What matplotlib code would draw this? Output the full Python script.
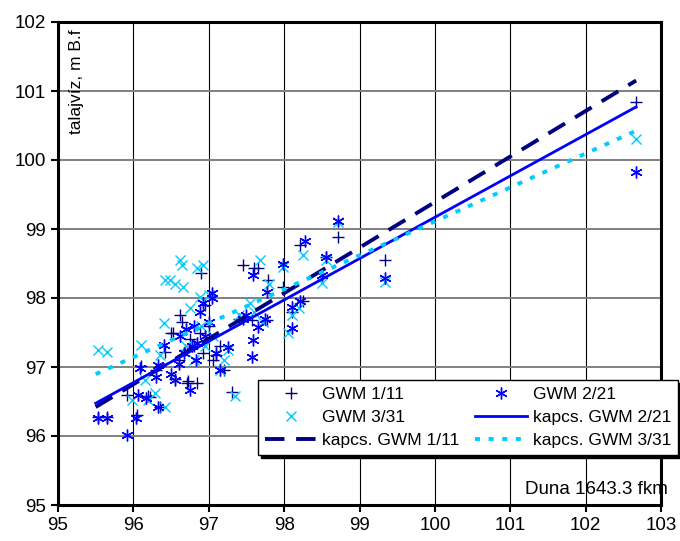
import numpy as np
import matplotlib
matplotlib.use('Agg')
import matplotlib.pyplot as plt

plt.rcParams['font.family'] = ['Liberation Sans', 'DejaVu Sans']

# GWM 1/11 (+)
x1 = [95.53, 95.65, 95.92, 96.05, 96.1, 96.2, 96.22, 96.35, 96.3, 96.42, 96.5, 96.53, 96.55, 96.62,
      96.64, 96.6, 96.68, 96.71, 96.72, 96.84, 96.75, 96.8, 96.88, 96.9, 96.92, 96.95, 97.0, 97.05,
      97.1, 97.15, 97.2, 97.31, 97.4, 97.45, 97.6, 97.65, 97.57, 97.77, 97.78, 97.98, 98.1, 98.21,
      98.25, 98.55, 98.71, 99.34, 102.67]
y1 = [96.28, 96.27, 96.59, 96.3, 97.02, 96.58, 96.57, 96.42, 96.95, 97.22, 97.49, 97.49, 96.82, 97.75,
      97.65, 97.1, 97.25, 96.77, 96.8, 96.77, 97.4, 97.3, 97.5, 98.36, 97.2, 97.9, 97.6, 97.1,
      97.17, 97.3, 96.95, 96.64, 97.7, 98.48, 98.43, 98.43, 97.68, 97.68, 98.26, 98.16, 97.8, 98.77,
      97.95, 98.6, 98.88, 98.55, 100.84]

# GWM 2/21 (*)
x2 = [95.53, 95.65, 95.91, 96.03, 96.06, 96.09, 96.17, 96.33, 96.33, 96.4, 96.3, 96.5, 96.55, 96.6,
      96.62, 96.67, 96.7, 96.75, 96.78, 96.8, 96.83, 96.85, 96.88, 96.93, 96.95, 97.0, 97.04, 97.04,
      97.1, 97.15, 97.25, 97.45, 97.5, 97.57, 97.59, 97.59, 97.66, 97.77, 97.75, 97.98, 98.1, 98.1,
      98.21, 98.28, 98.5, 98.55, 98.71, 99.34, 102.67]
y2 = [96.26, 96.26, 96.01, 96.26, 96.6, 96.99, 96.55, 96.42, 97.03, 97.32, 96.85, 96.9, 96.81, 97.05,
      97.45, 97.2, 97.55, 96.67, 97.3, 97.6, 97.1, 97.35, 97.8, 97.93, 97.45, 97.65, 98.07, 98.0,
      97.2, 96.96, 97.29, 97.7, 97.75, 97.15, 97.39, 98.33, 97.58, 98.09, 97.7, 98.5, 97.87, 97.56,
      97.95, 98.82, 98.34, 98.6, 99.11, 98.29, 99.83]

# GWM 3/31 (x)
x3 = [95.53, 95.65, 95.98, 96.1, 96.15, 96.2, 96.29, 96.35, 96.4, 96.42, 96.42, 96.49, 96.55, 96.62,
      96.64, 96.66, 96.7, 96.75, 96.8, 96.84, 96.88, 96.9, 96.93, 96.95, 97.0, 97.05, 97.15, 97.2,
      97.25, 97.35, 97.4, 97.55, 97.6, 97.68, 97.72, 97.8, 97.98, 98.05, 98.1, 98.2, 98.25, 98.5,
      98.55, 98.71, 99.34, 102.67]
y3 = [97.25, 97.22, 96.52, 97.32, 96.81, 96.52, 96.62, 97.17, 97.64, 96.42, 98.26, 98.26, 98.2, 98.55,
      98.48, 98.16, 97.3, 97.85, 97.1, 98.43, 98.01, 97.6, 98.48, 97.3, 98.04, 97.45, 96.96, 97.1,
      97.25, 96.58, 97.75, 97.93, 97.8, 98.55, 97.65, 98.2, 98.45, 97.5, 97.75, 97.85, 98.62, 98.22,
      98.55, 99.1, 98.23, 100.3]

# trend lines (slope, intercept) and x range
fit_x = [95.5, 102.67]
fit1 = (0.660, 33.39)   # kapcs. GWM 1/11
fit2 = (0.599, 39.27)   # kapcs. GWM 2/21
fit3 = (0.492, 49.91)   # kapcs. GWM 3/31

fig = plt.figure(figsize=(6.8, 5.41), dpi=100)
ax = fig.add_axes([58/680, 1-505/541, 603/680, 483/541])

fx = np.array(fit_x)
h1, = ax.plot(x1, y1, linestyle='none', marker='+', color='#000080', markersize=8.5, markeredgewidth=1)
h3, = ax.plot(x3, y3, linestyle='none', marker='x', color='#00CCFF', markersize=7.5, markeredgewidth=1)
h2, = ax.plot(x2, y2, linestyle='none', marker=(6, 2, 0), color='#0000FF', markersize=8.5, markeredgewidth=1)
l1, = ax.plot(fx, fit1[0]*fx + fit1[1], color='#000080', lw=2.8, dashes=(5, 3))
l2, = ax.plot(fx, fit2[0]*fx + fit2[1], color='#0000FF', lw=2)
l3, = ax.plot(fx, fit3[0]*fx + fit3[1], color='#00CCFF', lw=2.8, dashes=(1.3, 2.2))

ax.set_xlim(95, 103)
ax.set_ylim(95, 102)
ax.set_xticks(range(95, 104))
ax.set_yticks(range(95, 103))
ax.xaxis.grid(True, color='black', lw=0.8)
ax.yaxis.grid(True, color='#808080', lw=1.4)
ax.set_axisbelow(True)
for s in ax.spines.values():
    s.set_linewidth(2.2)
ax.tick_params(direction='out', length=5, width=1.5, labelsize=13.5)

ax.text(0.03, 0.985, 'talajvíz, m B.f', transform=ax.transAxes, rotation=90,
        ha='center', va='top', fontsize=12.5)
ax.text(1.012, 0.015, 'Duna 1643.3 fkm', transform=ax.transAxes, ha='right', va='bottom', fontsize=13.5)

leg = ax.legend([h1, h3, l1, h2, l2, l3],
                ['GWM 1/11', 'GWM 3/31', 'kapcs. GWM 1/11', 'GWM 2/21', 'kapcs. GWM 2/21', 'kapcs. GWM 3/31'],
                ncol=2, loc='lower left', bbox_to_anchor=(0.332, 0.1035, 0.696, 0.193), mode='expand',
                borderaxespad=0, fontsize=12.5, fancybox=False, edgecolor='black', framealpha=1,
                shadow={'color': 'black', 'alpha': 1}, handlelength=3, handletextpad=0.3,
                columnspacing=1.0, labelspacing=0.45)
leg.get_frame().set_linewidth(1)

plt.savefig('out.png', dpi=100)
